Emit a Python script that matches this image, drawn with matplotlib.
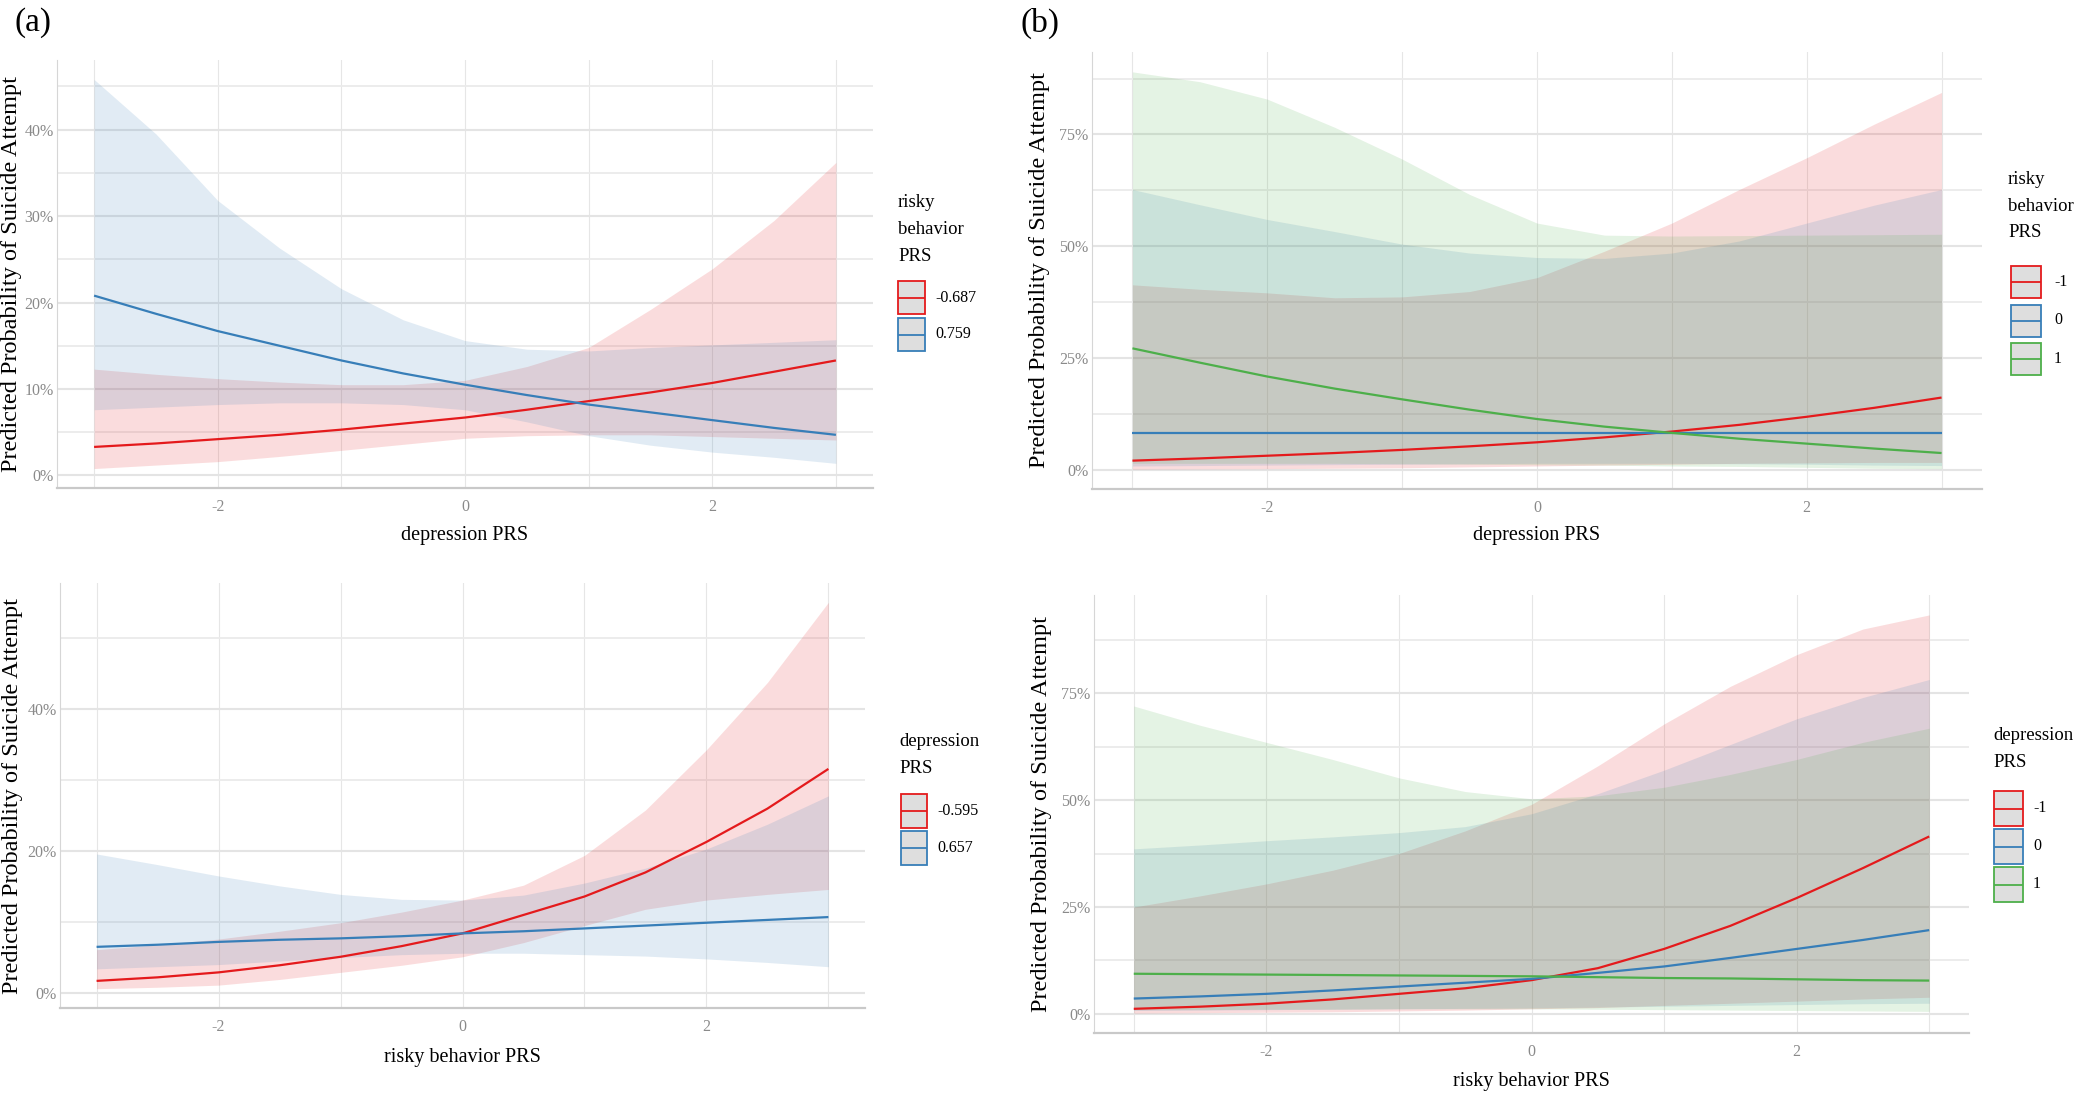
import matplotlib
matplotlib.use("Agg")
import matplotlib.pyplot as plt
from matplotlib.lines import Line2D
from matplotlib.patches import Rectangle
from matplotlib.ticker import FixedLocator, FuncFormatter

plt.rcParams["font.family"] = ["Liberation Serif", "DejaVu Serif"]
plt.rcParams["axes.unicode_minus"] = False

# ---- data (predicted probability in %) ----
prs_x = [-3.0, -2.5, -2.0, -1.5, -1.0, -0.5, 0.0, 0.5, 1.0, 1.5, 2.0, 2.5, 3.0]

# (a) top: x = depression PRS, groups = risky behavior PRS
a1_levels = ["-0.687", "0.759"]
a1_red_fit = [3.3, 3.7, 4.2, 4.7, 5.3, 6.0, 6.7, 7.6, 8.6, 9.6, 10.7, 12.0, 13.3]
a1_red_low = [0.8, 1.2, 1.6, 2.2, 2.9, 3.6, 4.3, 4.6, 4.7, 4.7, 4.5, 4.3, 4.1]
a1_red_high = [12.3, 11.7, 11.2, 10.8, 10.5, 10.5, 11.0, 12.6, 14.8, 19.2, 23.9, 29.5, 36.2]
a1_blue_fit = [20.8, 18.7, 16.7, 15.0, 13.3, 11.8, 10.5, 9.3, 8.2, 7.3, 6.4, 5.5, 4.7]
a1_blue_low = [7.6, 7.9, 8.2, 8.4, 8.4, 8.2, 7.6, 6.2, 4.6, 3.5, 2.7, 2.1, 1.4]
a1_blue_high = [45.8, 39.5, 31.8, 26.3, 21.6, 18.0, 15.6, 14.6, 14.4, 14.8, 15.1, 15.4, 15.7]

# (b) top: x = depression PRS, groups = risky behavior PRS
b1_levels = ["-1", "0", "1"]
b1_red_fit = [2.1, 2.6, 3.2, 3.8, 4.5, 5.3, 6.2, 7.3, 8.6, 10.1, 11.9, 13.9, 16.2]
b1_red_low = [0.2, 0.25, 0.3, 0.4, 0.5, 0.7, 0.9, 1.1, 1.3, 1.5, 1.6, 1.7, 1.7]
b1_red_high = [41.4, 40.4, 39.6, 38.5, 38.7, 39.9, 43.0, 48.9, 55.2, 62.7, 69.8, 77.3, 84.4]
b1_blue_fit = [8.3, 8.3, 8.3, 8.3, 8.3, 8.3, 8.3, 8.3, 8.3, 8.3, 8.3, 8.3, 8.3]
b1_blue_low = [0.9, 1.0, 1.1, 1.2, 1.3, 1.4, 1.5, 1.5, 1.5, 1.4, 1.3, 1.1, 1.0]
b1_blue_high = [62.7, 59.3, 56.0, 53.3, 50.5, 48.5, 47.5, 47.3, 48.5, 51.2, 55.2, 59.2, 62.7]
b1_green_fit = [27.2, 24.0, 20.9, 18.2, 15.8, 13.5, 11.4, 9.7, 8.3, 7.0, 5.9, 4.8, 3.8]
b1_green_low = [1.5, 1.5, 1.5, 1.5, 1.4, 1.3, 1.2, 1.1, 0.9, 0.8, 0.6, 0.4, 0.3]
b1_green_high = [89.0, 86.8, 82.9, 76.6, 69.5, 61.6, 55.2, 52.5, 52.3, 52.4, 52.5, 52.6, 52.7]

# (a) bottom: x = risky behavior PRS, groups = depression PRS
a2_levels = ["-0.595", "0.657"]
a2_red_fit = [1.7, 2.2, 2.9, 3.9, 5.1, 6.6, 8.4, 11.0, 13.6, 17.0, 21.3, 26.0, 31.6]
a2_red_low = [0.6, 0.8, 1.1, 1.9, 2.9, 3.9, 5.1, 7.1, 9.5, 11.8, 13.1, 13.9, 14.6]
a2_red_high = [6.1, 6.8, 7.6, 8.7, 9.9, 11.4, 13.1, 15.2, 19.4, 25.8, 34.3, 43.8, 55.1]
a2_blue_fit = [6.5, 6.8, 7.2, 7.5, 7.7, 8.0, 8.4, 8.7, 9.1, 9.5, 9.9, 10.3, 10.7]
a2_blue_low = [3.4, 3.7, 4.0, 4.5, 5.0, 5.4, 5.6, 5.6, 5.4, 5.2, 4.8, 4.3, 3.7]
a2_blue_high = [19.6, 18.1, 16.5, 15.1, 13.9, 13.2, 13.1, 13.8, 15.5, 17.6, 20.3, 23.8, 27.8]

# (b) bottom: x = risky behavior PRS, groups = depression PRS
b2_levels = ["-1", "0", "1"]
b2_red_fit = [1.2, 1.7, 2.4, 3.4, 4.7, 6.0, 7.9, 10.7, 15.2, 20.6, 27.1, 34.1, 41.5]
b2_red_low = [0.2, 0.3, 0.4, 0.5, 0.7, 0.9, 1.2, 1.5, 2.0, 2.5, 3.0, 3.5, 3.9]
b2_red_high = [25.0, 27.6, 30.4, 33.6, 37.5, 42.8, 49.0, 58.0, 67.8, 76.6, 84.0, 90.0, 93.3]
b2_blue_fit = [3.6, 4.1, 4.7, 5.5, 6.4, 7.3, 8.2, 9.6, 11.1, 13.1, 15.2, 17.3, 19.6]
b2_blue_low = [0.8, 0.9, 1.0, 1.1, 1.2, 1.3, 1.4, 1.6, 1.8, 2.0, 2.2, 2.4, 2.5]
b2_blue_high = [38.6, 39.5, 40.5, 41.4, 42.4, 43.8, 46.8, 51.5, 57.0, 63.0, 69.0, 74.0, 78.2]
b2_green_fit = [9.4, 9.3, 9.2, 9.1, 9.0, 8.9, 8.8, 8.6, 8.4, 8.3, 8.1, 7.9, 7.8]
b2_green_low = [1.0, 1.0, 1.1, 1.1, 1.2, 1.2, 1.2, 1.1, 1.0, 0.9, 0.8, 0.7, 0.6]
b2_green_high = [72.0, 67.5, 63.5, 59.5, 55.2, 52.0, 50.3, 51.0, 53.0, 56.0, 59.5, 63.5, 66.8]

x_ticks = [-2, 0, 2]
y_label = "Predicted Probability of Suicide Attempt"

RED, BLUE, GREEN = "#E41A1C", "#377EB8", "#4DAF4A"
TICK_GREY = "#8a8a8a"

W, H = 2083, 1099
fig = plt.figure(figsize=(W / 100, H / 100), dpi=100)


def px_axes(box):
    left, top, right, bottom = box
    return fig.add_axes([left / W, 1 - bottom / H, (right - left) / W, (bottom - top) / H])


def draw_panel(box, series, y_major, y_minor, xlabel, xlabel_top, ylabel_x):
    ax = px_axes(box)
    left, top, right, bottom = box
    # ribbons first, then the fitted lines on top
    for fit, low, high, col in series:
        ax.fill_between(prs_x, low, high, color=col, alpha=0.15, linewidth=0)
    for fit, low, high, col in series:
        ax.plot(prs_x, fit, color=col, lw=1.6, solid_capstyle="butt")

    lows = [v for s in series for v in s[1]]
    highs = [v for s in series for v in s[2]]
    pad = 0.05 * (max(highs) - min(lows))
    ax.set_ylim(min(lows) - pad, max(highs) + pad)
    ax.set_xlim(-3.3, 3.3)

    ax.xaxis.set_major_locator(FixedLocator(x_ticks))
    ax.xaxis.set_minor_locator(FixedLocator([-3, -1, 1, 3]))
    ax.yaxis.set_major_locator(FixedLocator(y_major))
    ax.yaxis.set_minor_locator(FixedLocator(y_minor))
    ax.xaxis.set_major_formatter(FuncFormatter(lambda v, p: "%d" % v))
    ax.yaxis.set_major_formatter(FuncFormatter(lambda v, p: "%d%%" % v))

    ax.tick_params(which="both", length=0, labelsize=11.5, labelcolor=TICK_GREY)
    ax.tick_params(axis="x", pad=8)
    ax.tick_params(axis="y", pad=2.5)

    ax.xaxis.grid(True, which="both", color="#e6e6e6", lw=0.8)
    ax.yaxis.grid(True, which="major", color="#e4e4e4", lw=1.5)
    ax.yaxis.grid(True, which="minor", color="#ebebeb", lw=1.3)
    ax.set_axisbelow(True)

    for side in ("top", "right"):
        ax.spines[side].set_visible(False)
    ax.spines["left"].set_color("#d6d6d6")
    ax.spines["left"].set_linewidth(0.8)
    ax.spines["bottom"].set_color("#c9c9c9")
    ax.spines["bottom"].set_linewidth(1.6)

    hpx = bottom - top
    wpx = right - left
    ax.set_xlabel(xlabel, fontsize=14.5)
    ax.xaxis.set_label_coords(0.5, -(xlabel_top - bottom) / hpx)
    ax.set_ylabel(y_label, fontsize=17.5, va="center")
    ax.yaxis.set_label_coords(-(left - ylabel_x) / wpx, 0.5)
    return ax


def draw_legend(title, labels, colors, title_left, title_top, key_left, key_top,
                key_w, key_h, key_step, label_x):
    fig.text(title_left / W, 1 - title_top / H, title, ha="left", va="top",
             fontsize=13.5, linespacing=1.75)
    for i, (lab, col) in enumerate(zip(labels, colors)):
        ktop = key_top + i * key_step
        fig.add_artist(Rectangle((key_left / W, 1 - (ktop + key_h) / H), key_w / W, key_h / H,
                                 transform=fig.transFigure, facecolor="#dedede",
                                 edgecolor=col, lw=1.3))
        ymid = 1 - (ktop + key_h / 2) / H
        fig.add_artist(Line2D([(key_left + 1) / W, (key_left + key_w - 1) / W], [ymid, ymid],
                              transform=fig.transFigure, color=col, lw=1.3))
        fig.text(label_x / W, ymid, lab, ha="left", va="center", fontsize=11.5)


draw_panel((57, 60, 873, 488),
           [(a1_red_fit, a1_red_low, a1_red_high, RED),
            (a1_blue_fit, a1_blue_low, a1_blue_high, BLUE)],
           [0, 10, 20, 30, 40], [5, 15, 25, 35, 45],
           "depression PRS", 526, 12)
draw_legend("risky\nbehavior\nPRS", a1_levels, [RED, BLUE],
            898, 194, 898, 281, 27, 33, 37, 935)

draw_panel((1092, 52, 1982, 489),
           [(b1_red_fit, b1_red_low, b1_red_high, RED),
            (b1_blue_fit, b1_blue_low, b1_blue_high, BLUE),
            (b1_green_fit, b1_green_low, b1_green_high, GREEN)],
           [0, 25, 50, 75], [12.5, 37.5, 62.5, 87.5],
           "depression PRS", 526, 1040)
draw_legend("risky\nbehavior\nPRS", b1_levels, [RED, BLUE, GREEN],
            2008, 171, 2011, 266, 30, 32, 38.5, 2054)

draw_panel((60, 583, 865, 1008),
           [(a2_red_fit, a2_red_low, a2_red_high, RED),
            (a2_blue_fit, a2_blue_low, a2_blue_high, BLUE)],
           [0, 20, 40], [10, 30, 50],
           "risky behavior PRS", 1048, 13)
draw_legend("depression\nPRS", a2_levels, [RED, BLUE],
            899, 733, 901, 794, 26, 34, 37, 937)

draw_panel((1094, 595, 1969, 1033),
           [(b2_red_fit, b2_red_low, b2_red_high, RED),
            (b2_blue_fit, b2_blue_low, b2_blue_high, BLUE),
            (b2_green_fit, b2_green_low, b2_green_high, GREEN)],
           [0, 25, 50, 75], [12.5, 37.5, 62.5, 87.5],
           "risky behavior PRS", 1072, 1041)
draw_legend("depression\nPRS", b2_levels, [RED, BLUE, GREEN],
            1993, 727, 1994, 791, 29, 35, 38, 2033)

fig.text(15 / W, 1 - 23 / H, "(a)", ha="left", va="center", fontsize=24)
fig.text(1021 / W, 1 - 23 / H, "(b)", ha="left", va="center", fontsize=24)

fig.savefig("out.png", dpi=100, facecolor="white")
